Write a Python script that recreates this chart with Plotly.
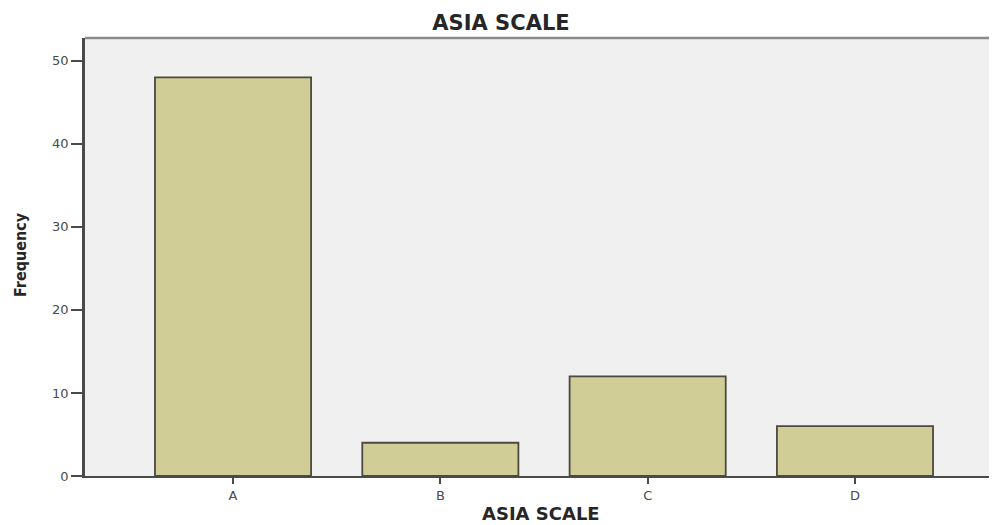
import plotly.graph_objects as go

categories = ["A", "B", "C", "D"]
frequencies = [48, 4, 12, 6]
y_ticks = [0, 10, 20, 30, 40, 50]

W, H = 989, 517  # page has an 8px body margin

fig = go.Figure()
fig.add_trace(go.Bar(
    x=categories, y=frequencies, width=0.753,
    marker=dict(color="#d1cd96", line=dict(color="#4a4a40", width=1.8)),
))

fig.update_layout(
    width=W, height=H,
    margin=dict(l=77, r=0, t=30, b=49),
    paper_bgcolor="white", plot_bgcolor="#f0f0f0",
    showlegend=False,
    title=dict(text="<b>ASIA SCALE</b>", x=493 / W, xanchor="center", y=1 - 15 / H, yanchor="middle",
               font=dict(family="DejaVu Sans", size=21, color="#262626")),
    font=dict(family="DejaVu Sans", color="#333"),
)
fig.update_xaxes(
    type="category", range=[-0.714, 3.685],
    showline=True, linecolor="#4a4a4a", linewidth=2,
    ticks="outside", ticklen=6, tickwidth=1.5, tickcolor="#4a4a4a",
    tickfont=dict(size=13, color="#4a4a4a"), showgrid=False,
)
fig.update_yaxes(
    range=[0, 52.73], tickvals=y_ticks,
    showline=True, linecolor="#4a4a4a", linewidth=2.5,
    ticks="outside", ticklen=11, tickwidth=1.5, tickcolor="#4a4a4a",
    tickfont=dict(size=13, color="#4a4a4a"), showgrid=False, zeroline=False,
)
# axis titles
fig.add_annotation(text="<b>ASIA SCALE</b>", xref="paper", yref="paper", x=0.5, y=0,
                   yshift=-37, xanchor="center", yanchor="middle", showarrow=False,
                   font=dict(family="DejaVu Sans", size=18, color="#262626"))
fig.add_annotation(text="<b>Frequency</b>", xref="paper", yref="paper", x=0, y=0.5,
                   xshift=-65, yshift=2, textangle=-90, xanchor="center", yanchor="middle",
                   showarrow=False,
                   font=dict(family="DejaVu Sans Condensed", size=16, color="#262626"))
# top border of the plot frame
fig.add_shape(type="line", xref="paper", yref="paper", x0=0, x1=1, y0=1, y1=1,
              line=dict(color="#8a8a8a", width=2.5))

fig.write_html("out.html")
